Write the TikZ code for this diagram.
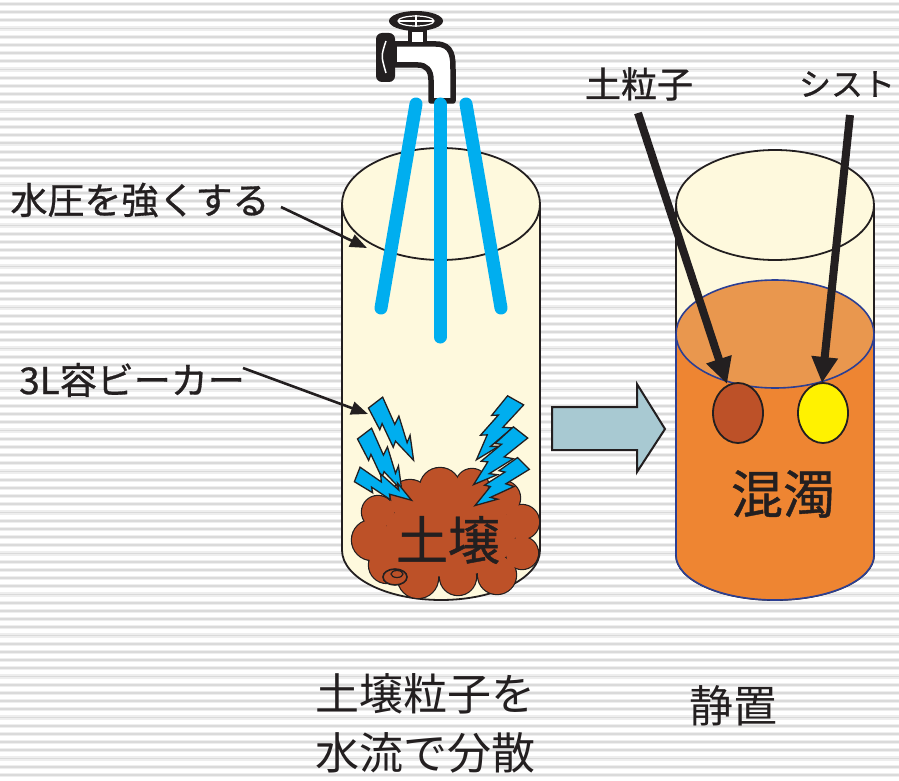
\documentclass[tikz,border=0pt]{standalone}
\usepackage{fontspec}
\newfontfamily\jpfont{Noto Sans CJK JP}
\newfontfamily\jpfontheavy[FakeBold=0.8]{Noto Sans CJK JP}
\usetikzlibrary{arrows.meta}
\definecolor{inkc}{HTML}{231F20}
\definecolor{cream}{HTML}{FEF9DD}
\definecolor{soilc}{HTML}{BD5128}
\definecolor{waterc}{HTML}{00AEEF}
\definecolor{orangec}{HTML}{EE8532}
\definecolor{surfacec}{HTML}{E9974E}
\definecolor{liquidc}{HTML}{2C3F93}
\definecolor{blockc}{HTML}{A8C9D2}
\definecolor{cystc}{HTML}{FFF200}
\definecolor{stripeHaloc}{HTML}{EEEEEE}
\definecolor{stripeCorec}{HTML}{DADADA}
\begin{document}
\begin{tikzpicture}[x=1pt,y=-1pt,
  stripeHalo/.style={draw=stripeHaloc, line width=4.2pt},
  stripeCore/.style={draw=stripeCorec, line width=1.8pt},
  glass/.style={draw=inkc, line width=1.8pt},
  liquidEdge/.style={draw=liquidc, line width=1.6pt},
  stream/.style={draw=waterc, line width=13pt, line cap=round},
  soilEdge/.style={draw=inkc, fill=soilc, line width=2.4pt},
  particle/.style={draw=inkc, line width=1.8pt},
  thinArrow/.style={draw=inkc, line width=2.6pt, -{Triangle[length=17pt,width=13pt]}},
  thickArrow/.style={draw=inkc, line width=8pt, -{Triangle[length=26pt,width=25pt]}},
  blockArrow/.style={fill=blockc, draw=inkc, line width=2pt, line join=miter},
  lbl/.style={font=\jpfontheavy\fontsize{37pt}{44pt}\selectfont, text=inkc, inner sep=0pt},
  lblS/.style={font=\jpfontheavy\fontsize{36pt}{42pt}\selectfont, text=inkc, inner sep=0pt},
  lblK/.style={font=\jpfontheavy\fontsize{32pt}{40pt}\selectfont, text=inkc, inner sep=0pt},
  bigTxt/.style={font=\jpfontheavy\fontsize{52pt}{60pt}\selectfont, text=inkc, inner sep=0pt},
  capTxt/.style={font=\jpfont\fontsize{44pt}{50pt}\selectfont, text=inkc, inner sep=0pt},
  lightning/.pic={
    \filldraw[fill=waterc, draw=inkc, line width=1.3pt, line join=miter]
      (0,-14) -- (42,-4) -- (36,-16) -- (74,-2) -- (68,-12) -- (100,6)
      -- (62,10) -- (67,18) -- (30,10) -- (35,18) -- (0,12) -- cycle;
  }]
\useasboundingbox (0,0) rectangle (899,781);
\fill[white] (0,0) rectangle (899,781);

% striped backdrop
\foreach \i in {0,...,95}{
  \draw[stripeHalo] (0,{4+8.2*\i}) -- (899,{4+8.2*\i});
  \draw[stripeCore] (0,{4+8.2*\i}) -- (899,{4+8.2*\i});
}

% left beaker
\fill[cream] (342,204) -- (342,550) arc[start angle=180,end angle=0,x radius=99,y radius=50]
  -- (540,204) arc[start angle=360,end angle=180,x radius=99,y radius=56] -- cycle;
\draw[glass] (342,204) -- (342,550) arc[start angle=180,end angle=0,x radius=99,y radius=50] -- (540,204);
\draw[glass] (441,204) ellipse[x radius=99,y radius=56];

% right beaker
\fill[cream] (676,205) -- (676,555) arc[start angle=180,end angle=0,x radius=99,y radius=45]
  -- (874,205) arc[start angle=360,end angle=180,x radius=99,y radius=55] -- cycle;
\draw[glass] (676,205) -- (676,555) arc[start angle=180,end angle=0,x radius=99,y radius=45] -- (874,205);
\draw[glass] (775,205) ellipse[x radius=99,y radius=55];

% turbid liquid
\fill[orangec] (676,334) -- (676,555) arc[start angle=180,end angle=0,x radius=99,y radius=45]
  -- (874,334) arc[start angle=360,end angle=180,x radius=99,y radius=54] -- cycle;
\draw[liquidEdge] (676,334) -- (676,555) arc[start angle=180,end angle=0,x radius=99,y radius=45] -- (874,334);
\filldraw[fill=surfacec, liquidEdge] (775,334) ellipse[x radius=99,y radius=54];

% particles
\filldraw[particle, fill=soilc] (738,413) ellipse[x radius=25,y radius=30];
\filldraw[particle, fill=cystc] (823,413) ellipse[x radius=25,y radius=30];

% faucet
\fill[inkc, rounded corners=6pt] (376,33) rectangle (395,82);
\draw[white, line width=1.5pt] (386,41) .. controls (381,56) .. (386,73);
\filldraw[fill=white, draw=inkc, line width=5.5pt, line join=round]
  (394,44) -- (436,44) .. controls (453,44) and (453,58) .. (453,70) -- (453,101)
  -- (431,101) -- (431,80) .. controls (431,70) and (426,65) .. (418,65) -- (394,65) -- cycle;
\filldraw[fill=white, draw=inkc, line width=4pt] (410,30) rectangle (425,44);
\fill[inkc] (416,21) ellipse[x radius=27,y radius=10];
\draw[white, line width=1.2pt] (416,21) ellipse[x radius=18,y radius=5];
\draw[white, line width=1.2pt] (399,21) -- (433,21) (416,15) -- (416,27);

% water jets
\draw[stream] (416,104) -- (381,308);
\draw[stream] (440,104) -- (440,337);
\draw[stream] (466,104) -- (501,308);

% soil heap
\foreach \cx/\cy/\r in {410/500/20, 440/488/20, 472/485/16, 503/498/17, 522/522/17, 522/553/16,
    497/575/19, 458/577/18, 418/578/20, 387/565/18, 372/540/20, 378/512/16}
  \draw[soilEdge] (\cx,\cy) circle[radius=\r];
\draw[soilEdge] (450,535) ellipse[x radius=65,y radius=42];
\foreach \cx/\cy/\r in {410/500/20, 440/488/20, 472/485/16, 503/498/17, 522/522/17, 522/553/16,
    497/575/19, 458/577/18, 418/578/20, 387/565/18, 372/540/20, 378/512/16}
  \fill[soilc] (\cx,\cy) circle[radius=\r];
\fill[soilc] (450,535) ellipse[x radius=65,y radius=42];
\filldraw[soilEdge, line width=1.6pt] (395,577) ellipse[x radius=12,y radius=8];
\draw[inkc, line width=1.2pt] (397,574) ellipse[x radius=6,y radius=3.5];

% agitation bolts
\begin{scope}[shift={(375,403)}, rotate=-52.6, scale=0.69] \pic[transform shape] {lightning}; \end{scope}
\begin{scope}[shift={(364,434)}, rotate=-52.8, scale=0.68] \pic[transform shape] {lightning}; \end{scope}
\begin{scope}[shift={(357,475)}, rotate=-21.4, scale=0.60] \pic[transform shape] {lightning}; \end{scope}
\begin{scope}[shift={(515,400)}, rotate=-119.4, scale=0.71] \pic[transform shape] {lightning}; \end{scope}
\begin{scope}[shift={(520,432)}, rotate=-128, scale=0.70] \pic[transform shape] {lightning}; \end{scope}
\begin{scope}[shift={(523,463)}, rotate=-135, scale=0.64] \pic[transform shape] {lightning}; \end{scope}

% transfer arrow
\filldraw[blockArrow] (552,407) -- (637,407) -- (637,384) -- (665,429) -- (637,472)
  -- (637,450) -- (552,450) -- cycle;

% texts
\node[lbl] (pressureLbl) at (140,200) {水圧を強くする};
\node[lbl] (beakerLbl) at (132,380) {3L容ビーカー};
\node[lblS] (soilLbl) at (639,84) {土粒子};
\node[lblK] (cystLbl) at (847,84) {シスト};
\node[bigTxt] (soilTxt) at (448,540) {土壌};
\node[bigTxt] (turbidTxt) at (783,494) {混濁};
\node[capTxt, anchor=west] (capA) at (315,694) {土壌粒子を};
\node[capTxt, anchor=west] (capB) at (315,753) {水流で分散};
\node[capTxt] (capC) at (733,706) {静置};

% pointers
\coordinate (pressureTail) at (281,207);
\coordinate (rimTip) at (367,248);
\coordinate (beakerTail) at (243,368);
\coordinate (boltTip) at (368,414);
\coordinate (soilTail) at (638,113);
\coordinate (grainTip) at (727,384);
\coordinate (cystTail) at (850,115);
\coordinate (cystTip) at (822,383);
\draw[thinArrow] (pressureTail) -- (rimTip);
\draw[thinArrow] (beakerTail) -- (boltTip);
\draw[thickArrow] (soilTail) -- (grainTip);
\draw[thickArrow] (cystTail) -- (cystTip);
\end{tikzpicture}
\end{document}
